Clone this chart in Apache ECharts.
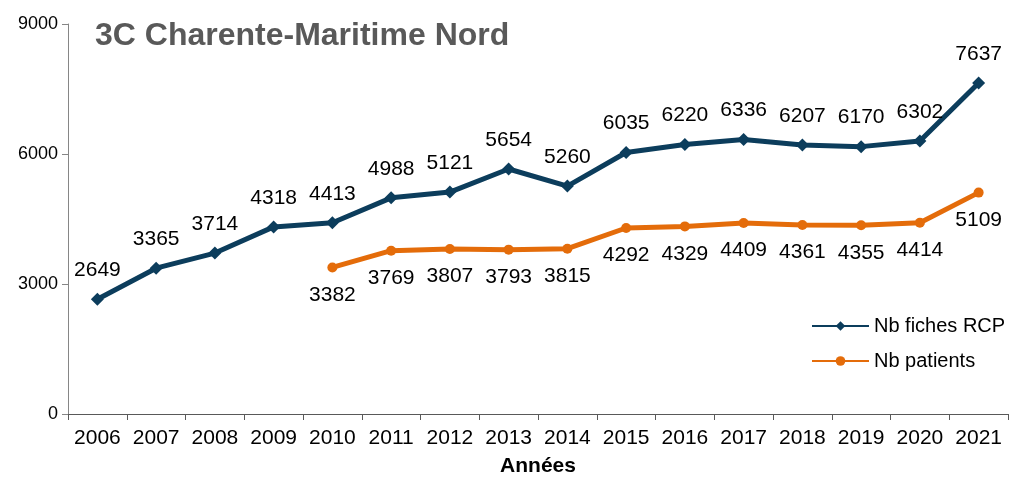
<!DOCTYPE html>
<html>
<head>
<meta charset="utf-8">
<script src="https://cdn.jsdelivr.net/npm/echarts@6/dist/echarts.min.js"></script>
<style>
  html, body { margin: 0; padding: 0; background: #fff; }
  #chart { width: 1009px; height: 477px; }
</style>
</head>
<body>
<div id="chart"></div>
<script>
// données
const annees = ['2006', '2007', '2008', '2009', '2010', '2011', '2012', '2013',
  '2014', '2015', '2016', '2017', '2018', '2019', '2020', '2021'];
const fichesRCP = [2649, 3365, 3714, 4318, 4413, 4988, 5121, 5654,
  5260, 6035, 6220, 6336, 6207, 6170, 6302, 7637];
const patients = [null, null, null, null, 3382, 3769, 3807, 3793,
  3815, 4292, 4329, 4409, 4361, 4355, 4414, 5109];
const yTicks = [0, 3000, 6000, 9000];

const chart = echarts.init(document.getElementById('chart'));

const option = {
  animation: false,
  textStyle: { fontFamily: 'Liberation Sans, Arial, sans-serif' },
  title: {
    text: '3C Charente-Maritime Nord',
    left: 90,
    top: 15,
    textStyle: { fontSize: 32, fontWeight: 'bold', color: '#595959' }
  },
  legend: {
    orient: 'vertical',
    left: 806,
    top: 311,
    itemGap: 15,
    itemWidth: 57,
    itemHeight: 12,
    textStyle: { fontSize: 20, color: '#000' },
    data: ['Nb fiches RCP', 'Nb patients']
  },
  grid: { left: 68, right: 1, top: 24, bottom: 63, outerBoundsMode: 'none', containLabel: false },
  xAxis: {
    type: 'category',
    data: annees,
    boundaryGap: true,
    name: 'Années',
    nameLocation: 'middle',
    nameGap: 42,
    nameTextStyle: { fontSize: 21, fontWeight: 'bold', color: '#000' },
    axisLine: { lineStyle: { color: '#595959', width: 1 } },
    axisTick: { show: true, length: 6, interval: 0, lineStyle: { color: '#595959' } },
    axisLabel: { fontSize: 21, color: '#000', margin: 14, interval: 0, hideOverlap: false }
  },
  yAxis: {
    type: 'value',
    min: yTicks[0],
    max: yTicks[yTicks.length - 1],
    interval: 3000,
    axisLine: { show: true, lineStyle: { color: '#868686', width: 1 } },
    axisTick: { show: true, length: 6, lineStyle: { color: '#868686' } },
    axisLabel: { fontSize: 18, color: '#000', margin: 10, formatter: v => String(v) },
    splitLine: { show: false }
  },
  series: [
    {
      name: 'Nb fiches RCP',
      type: 'line',
      data: fichesRCP,
      symbol: 'diamond',
      symbolSize: 13,
      lineStyle: { color: '#0C3D5C', width: 5 },
      itemStyle: { color: '#0C3D5C' },
      label: { show: true, position: 'top', distance: 12, fontSize: 21, color: '#000' }
    },
    {
      name: 'Nb patients',
      type: 'line',
      data: patients,
      symbol: 'circle',
      symbolSize: 10,
      lineStyle: { color: '#E46C0A', width: 5 },
      itemStyle: { color: '#E46C0A' },
      label: { show: true, position: 'bottom', distance: 12, fontSize: 21, color: '#000' }
    }
  ]
};

chart.setOption(option);
</script>
</body>
</html>
